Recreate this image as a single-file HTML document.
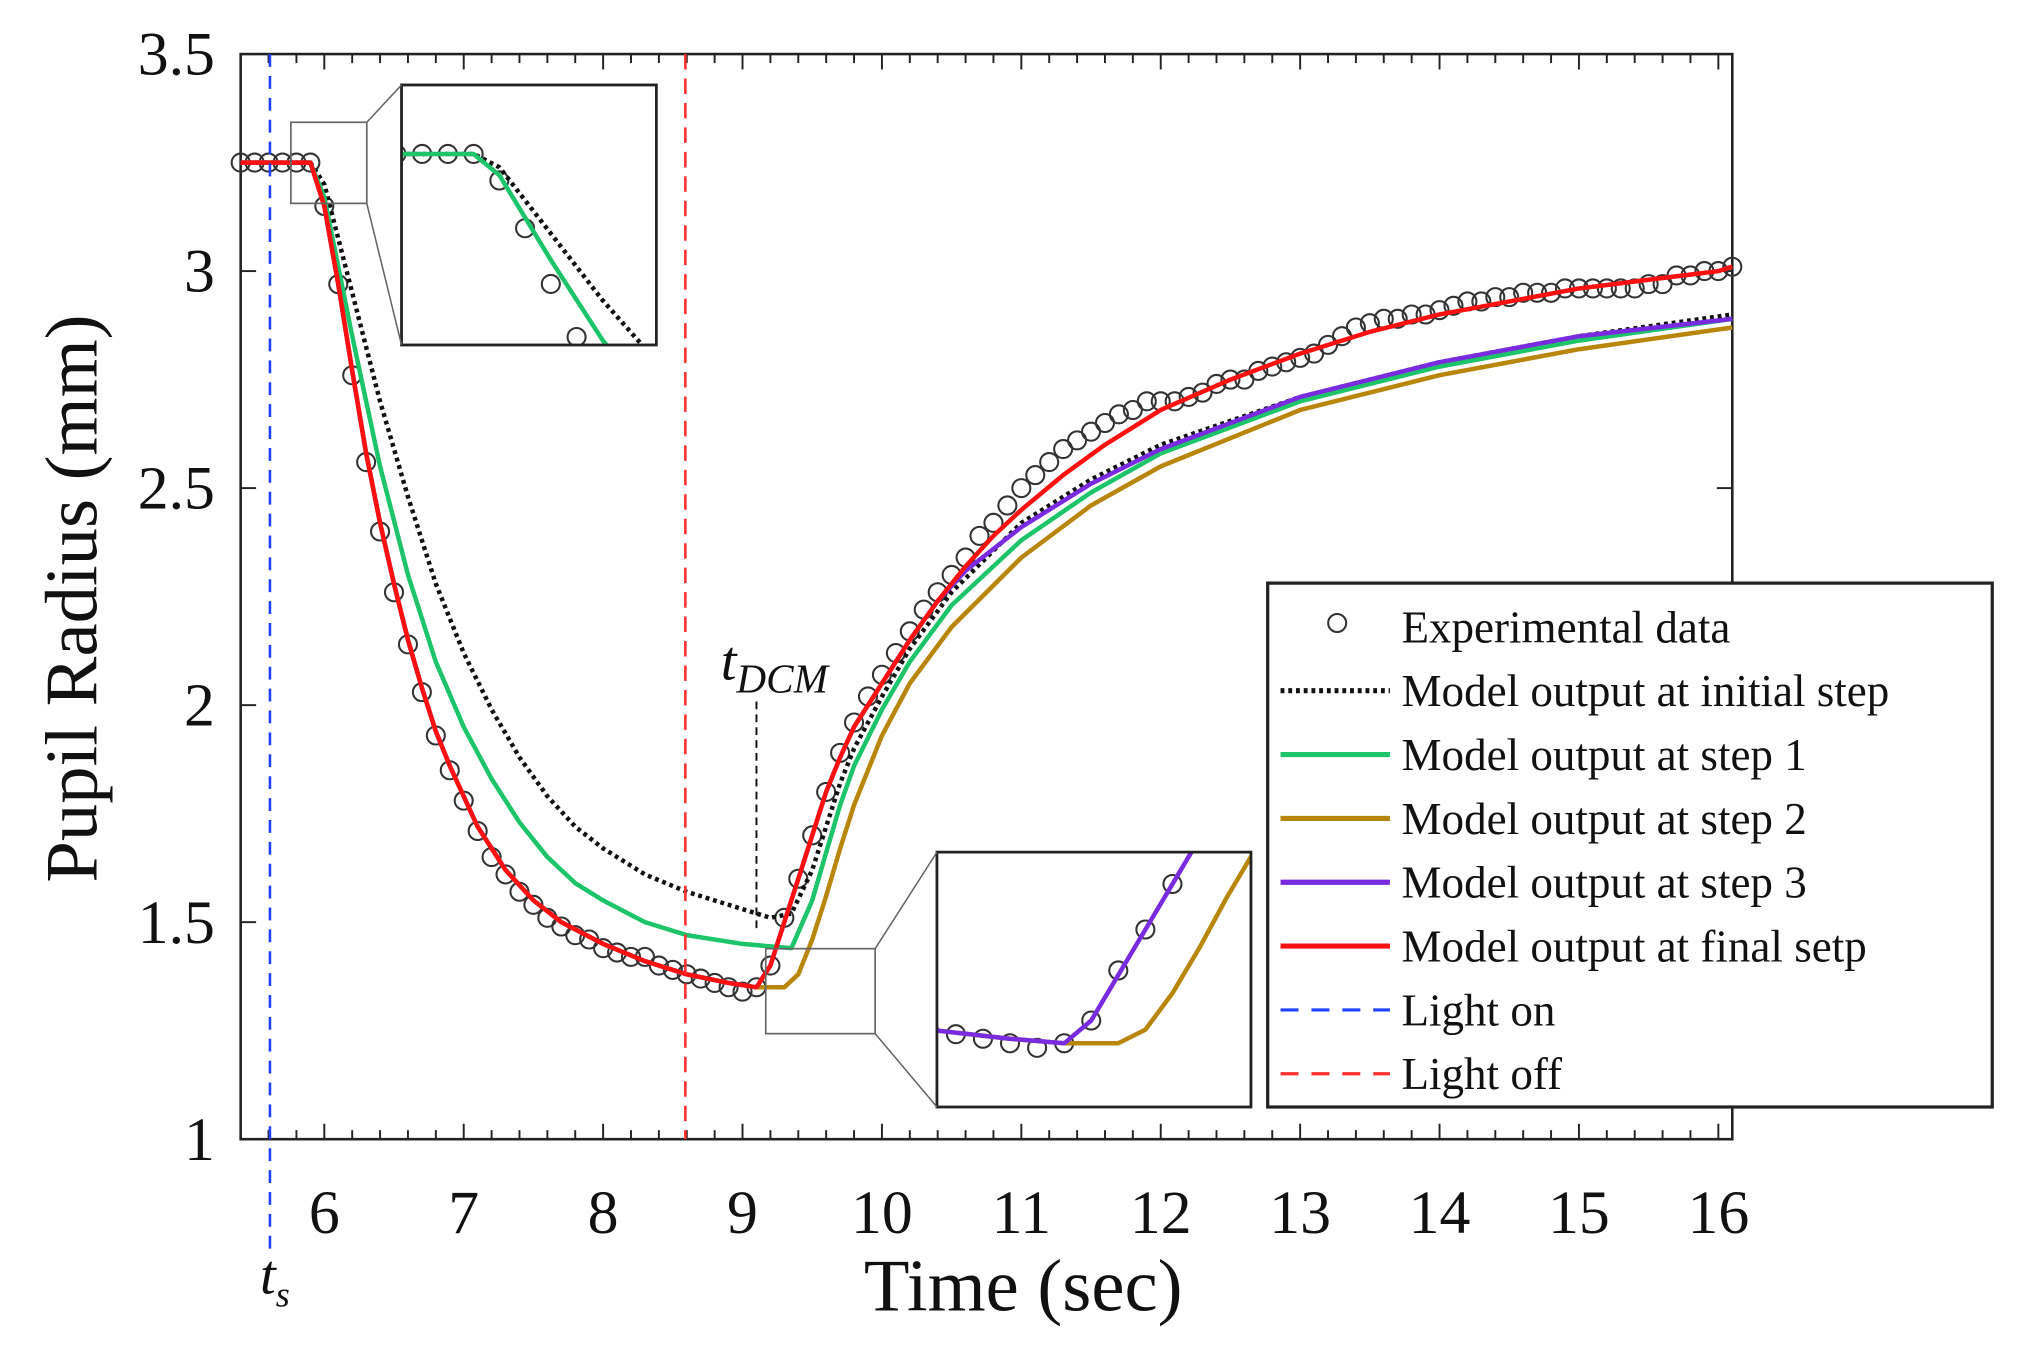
<!DOCTYPE html>
<html><head><meta charset="utf-8"><style>
html,body{margin:0;padding:0;background:#fff;}
svg{display:block;}
text{font-family:"Liberation Serif",serif;fill:#111;}
</style></head><body>
<svg id="chart" width="2018" height="1349" viewBox="0 0 1568 1048" preserveAspectRatio="none" xmlns="http://www.w3.org/2000/svg">
<defs>
<clipPath id="clipTop"><rect x="312" y="66" width="198" height="202"/></clipPath>
<clipPath id="clipBot"><rect x="728" y="662" width="244" height="198"/></clipPath>
</defs>
<g id="grid"></g>
<g id="marks"></g>
<g id="insets"></g>
<g id="legend"></g>
</svg>
<script>
// ---- data ----
const expT = [];
for (let i = 0; i < 108; i++) expT.push(+(5.4 + i * 0.1).toFixed(1));
const expR = [3.25,3.25,3.25,3.25,3.25,3.25,
3.15,2.97,2.76,2.56,2.40,2.26,2.14,2.03,1.93,1.85,
1.78,1.71,1.65,1.61,1.57,1.54,1.51,1.49,1.47,1.46,
1.44,1.43,1.42,1.42,1.40,1.39,1.38,1.37,1.36,1.35,
1.34,1.35,1.40,1.51,1.60,1.70,1.80,1.89,1.96,2.02,
2.07,2.12,2.17,2.22,2.26,2.30,2.34,2.39,2.42,2.46,
2.50,2.53,2.56,2.59,2.61,2.63,2.65,2.67,2.68,2.70,
2.70,2.70,2.71,2.72,2.74,2.75,2.75,2.77,2.78,2.79,
2.80,2.81,2.83,2.85,2.87,2.88,2.89,2.89,2.90,2.90,
2.91,2.92,2.93,2.93,2.94,2.94,2.95,2.95,2.95,2.96,
2.96,2.96,2.96,2.96,2.96,2.97,2.97,2.99,2.99,3.00,
3.00,3.01];

const initT = [5.4,5.9,6.0,6.2,6.4,6.6,6.8,7.0,7.2,7.4,7.6,7.8,8.0,8.3,8.6,8.9,9.2,9.35,9.5,9.6,9.7,9.8,10.0,10.2,10.5,11,11.5,12,13,14,15,16.1];
const initR = [3.25,3.25,3.2,2.95,2.70,2.48,2.28,2.12,1.99,1.88,1.79,1.72,1.67,1.61,1.57,1.54,1.51,1.52,1.62,1.72,1.82,1.90,2.02,2.13,2.26,2.42,2.52,2.60,2.71,2.79,2.85,2.90];

const s1T = [5.4,5.9,6.0,6.2,6.4,6.6,6.8,7.0,7.2,7.4,7.6,7.8,8.0,8.3,8.6,9.0,9.35,9.5,9.6,9.7,9.8,10.0,10.2,10.5,11,11.5,12,13,14,15,16.1];
const s1R = [3.25,3.25,3.17,2.85,2.55,2.30,2.10,1.95,1.83,1.73,1.65,1.59,1.55,1.50,1.47,1.45,1.44,1.55,1.66,1.77,1.86,1.99,2.10,2.23,2.38,2.49,2.58,2.70,2.78,2.84,2.89];

const finT = [5.4,5.9,6.0,6.1,6.2,6.3,6.4,6.5,6.6,6.7,6.8,6.9,7.0,7.1,7.2,7.3,7.5,7.7,8.0,8.3,8.6,8.9,9.1,9.2,9.3,9.4,9.5,9.6,9.7,9.8,10.0,10.2,10.4,10.6,10.8,11.0,11.3,11.6,12.0,12.5,13.0,13.5,14.0,14.5,15.0,15.5,16.0,16.1];
const finR = [3.25,3.25,3.15,2.97,2.77,2.58,2.42,2.28,2.15,2.04,1.94,1.86,1.79,1.72,1.67,1.62,1.55,1.50,1.45,1.41,1.38,1.36,1.35,1.40,1.50,1.60,1.70,1.80,1.88,1.95,2.05,2.15,2.24,2.32,2.39,2.45,2.53,2.60,2.68,2.75,2.81,2.86,2.90,2.93,2.96,2.98,3.00,3.01];

const s2T = [5.4,5.9,6.0,6.1,6.2,6.3,6.4,6.5,6.6,6.7,6.8,6.9,7.0,7.1,7.2,7.3,7.5,7.7,8.0,8.3,8.6,8.9,9.1,9.3,9.4,9.5,9.6,9.7,9.8,10.0,10.2,10.5,11,11.5,12,13,14,15,16.1];
const s2R = [3.25,3.25,3.15,2.97,2.77,2.58,2.42,2.28,2.15,2.04,1.94,1.86,1.79,1.72,1.67,1.62,1.55,1.50,1.45,1.41,1.38,1.36,1.35,1.35,1.38,1.46,1.56,1.67,1.77,1.93,2.05,2.18,2.34,2.46,2.55,2.68,2.76,2.82,2.87];

const s3T = [5.4,5.9,6.0,6.1,6.2,6.3,6.4,6.5,6.6,6.7,6.8,6.9,7.0,7.1,7.2,7.3,7.5,7.7,8.0,8.3,8.6,8.9,9.1,9.2,9.3,9.4,9.5,9.6,9.7,9.8,10.0,10.2,10.4,10.6,11,11.5,12,13,14,15,16.1];
const s3R = [3.25,3.25,3.15,2.97,2.77,2.58,2.42,2.28,2.15,2.04,1.94,1.86,1.79,1.72,1.67,1.62,1.55,1.50,1.45,1.41,1.38,1.36,1.35,1.40,1.50,1.60,1.70,1.80,1.88,1.95,2.05,2.15,2.24,2.31,2.41,2.51,2.59,2.71,2.79,2.85,2.89];

const xTicks = [6,7,8,9,10,11,12,13,14,15,16];
const yTicks = [1,1.5,2,2.5,3,3.5];
const yTickLabels = ["1","1.5","2","2.5","3","3.5"];
const lightOnT = 5.61, lightOffT = 8.59, tDCM = 9.1;

// ---- axes ----
const L=187,R=1346,T=42,B=885, X0=5.4, X1=16.1, Y0=1, Y1=3.5;
const sx = t => L + (t - X0) / (X1 - X0) * (R - L);
const sy = r => B - (r - Y0) / (Y1 - Y0) * (B - T);
const NS="http://www.w3.org/2000/svg";
function el(tag, attrs, parent){const e=document.createElementNS(NS,tag);for(const k in attrs)e.setAttribute(k,attrs[k]);parent.appendChild(e);return e;}
const grid=document.getElementById('grid'), marks=document.getElementById('marks'), insets=document.getElementById('insets'), legend=document.getElementById('legend');

const frame=el('rect',{x:L,y:T,width:R-L,height:B-T,fill:'none',stroke:'#222','stroke-width':2},grid);


for(let v=5.6; v<=16.05; v+=0.2){
  const major = Math.abs(v-Math.round(v))<0.01;
  const len = major?12:7;
  el('line',{x1:sx(v),x2:sx(v),y1:B,y2:B-len,stroke:'#222','stroke-width':1.5},grid);
  el('line',{x1:sx(v),x2:sx(v),y1:T,y2:T+len,stroke:'#222','stroke-width':1.5},grid);
}
xTicks.forEach(v=>{
  const t=el('text',{x:sx(v),y:958,'text-anchor':'middle','font-size':48},grid);
  t.textContent=v;
  
  
});
yTicks.forEach((v,i)=>{
  el('line',{x1:L,x2:L+12,y1:sy(v),y2:sy(v),stroke:'#222','stroke-width':1.5},grid);
  el('line',{x1:R,x2:R-12,y1:sy(v),y2:sy(v),stroke:'#222','stroke-width':1.5},grid);
  const t=el('text',{x:167,y:sy(v)+16,'text-anchor':'end','font-size':48},grid);
  t.textContent=yTickLabels[i];
  
  
});
const xt=el('text',{x:795,y:1018,'text-anchor':'middle','font-size':58},grid);
xt.textContent='Time (sec)';


const yt=el('text',{x:0,y:0,'text-anchor':'middle','font-size':58,transform:'translate(75,465) rotate(-90)'},grid);
yt.textContent='Pupil Radius (mm)';



// ---- series drawing ----
function drawAll(parent, fx, fy, cr, which){
  const line=(ts,rs,color,w,dash,name)=>{
    const p=el('polyline',{points:ts.map((t,i)=>fx(t).toFixed(1)+','+fy(rs[i]).toFixed(1)).join(' '),fill:'none',stroke:color,'stroke-width':w,'stroke-linejoin':'round'},parent);
    if(dash)p.setAttribute('stroke-dasharray',dash);
    
    
  };
  if(which.includes('exp')) expT.forEach((t,i)=>{
    const c=el('circle',{cx:fx(t),cy:fy(expR[i]),r:cr,fill:'none',stroke:'#333','stroke-width':1.6},parent);
    
    
  });
  if(which.includes('init')) line(initT,initR,'#111',3.5,'3 3','initial-step-line');
  if(which.includes('s1')) line(s1T,s1R,'#1dc46a',3.5,null,'step1-line');
  if(which.includes('s2')) line(s2T,s2R,'#b8860b',3.5,null,'step2-line');
  if(which.includes('s3')) line(s3T,s3R,'#7a2be0',3.5,null,'step3-line');
  if(which.includes('fin')) line(finT,finR,'#ff1010',3.5,null,'final-step-line');
}
drawAll(marks,sx,sy,7,['exp','init','s1','s2','s3','fin']);

// vertical markers
const lon=el('line',{x1:sx(lightOnT),x2:sx(lightOnT),y1:T,y2:975,stroke:'#2040ff','stroke-width':2,'stroke-dasharray':'10 7'},marks);


const loff=el('line',{x1:sx(lightOffT),x2:sx(lightOffT),y1:T,y2:B,stroke:'#ff3030','stroke-width':2,'stroke-dasharray':'12 7'},marks);


const ldcm=el('line',{x1:sx(tDCM),x2:sx(tDCM),y1:545,y2:725,stroke:'#111','stroke-width':1.5,'stroke-dasharray':'6 4'},marks);


const ts=el('text',{x:202,y:1005,'font-size':44,'font-style':'italic'},marks);
ts.innerHTML='t<tspan font-size="28" dy="10">s</tspan>';


const td=el('text',{x:560,y:528,'font-size':44,'font-style':'italic'},marks);
td.innerHTML='t<tspan font-size="32" dy="10">DCM</tspan>';



// ---- insets ----
function inset(sr, br, tr, rr, clip, name, which){
  const g=el('g',{},insets);
  
  
  el('rect',{x:sr[0],y:sr[1],width:sr[2],height:sr[3],fill:'none',stroke:'#666','stroke-width':1.3},g);
  el('rect',{x:br[0],y:br[1],width:br[2],height:br[3],fill:'#fff',stroke:'#222','stroke-width':2},g);
  const inner=el('g',{'clip-path':'url(#'+clip+')'},g);
  const fx=t=>br[0]+(t-tr[0])/(tr[1]-tr[0])*br[2];
  const fy=r=>br[1]+br[3]-(r-rr[0])/(rr[1]-rr[0])*br[3];
  drawAll(inner,fx,fy,7,which);
  el('rect',{x:br[0],y:br[1],width:br[2],height:br[3],fill:'none',stroke:'#222','stroke-width':2},g);
  return g;
}
const gTop=inset([226,95,59,63],[312,66,198,202],[5.62,6.61],[2.53,3.51],'clipTop','top-inset',['exp','init','s1']);
el('line',{x1:285,y1:95,x2:312,y2:66,stroke:'#666','stroke-width':1.2},gTop);
el('line',{x1:285,y1:158,x2:312,y2:268,stroke:'#666','stroke-width':1.2},gTop);
const gBot=inset([595,737,85,66],[728,662,244,198],[8.63,9.79],[1.21,1.77],'clipBot','bottom-inset',['exp','s2','s3']);
el('line',{x1:680,y1:737,x2:728,y2:662,stroke:'#666','stroke-width':1.2},gBot);
el('line',{x1:680,y1:803,x2:728,y2:860,stroke:'#666','stroke-width':1.2},gBot);

// ---- legend ----
const lb=el('rect',{x:985,y:453,width:563,height:407,fill:'#fff',stroke:'#222','stroke-width':2.5},legend);


const legLabels=['Experimental data','Model output at initial step','Model output at step 1','Model output at step 2','Model output at step 3','Model output at final setp','Light on','Light off'];
const legColors=['#333','#111','#1dc46a','#b8860b','#7a2be0','#ff1010','#2040ff','#ff3030'];
const legDash=[null,'3 3',null,null,null,null,'14 10','14 10'];
legLabels.forEach((lab,i)=>{
  const y=487+i*49.6;
  const g=el('g',{},legend);
  
  
  if(i===0){ el('circle',{cx:1039,cy:y-3,r:7,fill:'none',stroke:'#333','stroke-width':1.6},g); }
  else{
    const ln=el('line',{x1:995,x2:1080,y1:y,y2:y,stroke:legColors[i],'stroke-width':i>=6?2.5:4},g);
    if(legDash[i])ln.setAttribute('stroke-dasharray',legDash[i]);
  }
  const t=el('text',{x:1089,y:y+12,'font-size':35},g);
  t.textContent=lab;
});
</script>
</body></html>
